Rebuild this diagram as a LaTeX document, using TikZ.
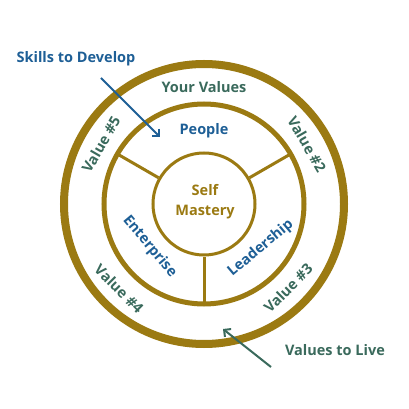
\documentclass[tikz,border=0pt]{standalone}
\usepackage{fontspec}
\setmainfont{Open Sans}
\usetikzlibrary{arrows.meta}
\definecolor{gold}{RGB}{155,122,18}
\definecolor{skblue}{RGB}{30,95,150}
\definecolor{vgreen}{RGB}{58,106,92}
\begin{document}
\begin{tikzpicture}[x=1pt,y=1pt,
  lbl/.style={font=\fontsize{14.5}{20}\selectfont\bfseries, inner sep=0pt, align=center},
  bluelbl/.style={lbl, text=skblue},
  greenlbl/.style={lbl, text=vgreen},
  goldlbl/.style={lbl, text=gold},
  arr/.style={line width=2pt, -{Straight Barb[length=5pt,width=10pt,line width=2pt]}},
  ring/.style={draw=gold}]
\useasboundingbox[fill=white] (-204,-205) rectangle (205,204);
\coordinate (c) at (0,0);
% rings
\draw[ring, line width=8pt] (c) circle[radius=140pt];
\draw[ring, line width=5pt] (c) circle[radius=100pt];
\node[ring, line width=3pt, circle, minimum size=102pt, inner sep=0pt] (core) at (c) {};
% dividers
\draw[gold, line width=3pt] (core.270) -- (270:100pt);
\draw[gold, line width=3pt] (core.30) -- (30:100pt);
\draw[gold, line width=3pt] (core.150) -- (150:100pt);
% core text
\node[goldlbl] (self) at (1,2) {Self\\Mastery};
% inner ring labels
\node[bluelbl] (people) at (0,73) {People};
\node[bluelbl, rotate=40] (lead) at (-38:72pt) {Leadership};
\node[bluelbl, rotate=-50] (ent) at (-142:69pt) {Enterprise};
% outer ring labels
\node[greenlbl] (yv) at (0,117) {Your Values};
\node[greenlbl, rotate=-60] (v2) at (30:119pt) {Value \#2};
\node[greenlbl, rotate=45] (v3) at (-45:119pt) {Value \#3};
\node[greenlbl, rotate=-45] (v4) at (-135:120pt) {Value \#4};
\node[greenlbl, rotate=60] (v5) at (150:119pt) {Value \#5};
% callouts
\node[bluelbl] (skills) at (-128,145) {Skills to Develop};
\node[greenlbl] (live) at (131,-146) {Values to Live};
\coordinate (bs) at (-103,126);
\coordinate (be) at (-44,67);
\coordinate (gs) at (67,-163);
\coordinate (ge) at (19,-125);
\draw[arr, skblue] (bs) -- (be);
\draw[arr, vgreen] (gs) -- (ge);
\end{tikzpicture}
\end{document}
